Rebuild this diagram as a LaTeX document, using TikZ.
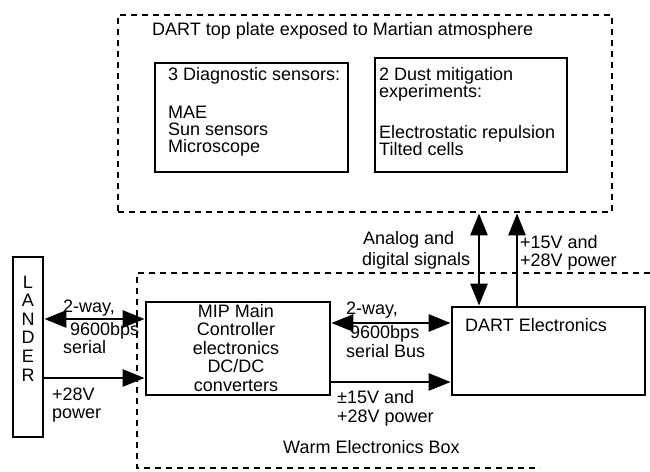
\documentclass[tikz,border=0pt]{standalone}
\usepackage{fontspec}
\setmainfont{Liberation Sans}
\usetikzlibrary{arrows.meta}
\tikzset{bigtip/.tip={Triangle[length=22pt,width=17pt]}}
\begin{document}
\begin{tikzpicture}[x=1pt,y=-1pt,
  every node/.style={inner sep=0pt, font=\fontsize{18}{17}\selectfont},
  box/.style={draw, line width=2.8pt},
  dbox/.style={draw, line width=2.8pt, dash pattern=on 6pt off 5pt},
  conn/.style={line width=2.8pt},
  lbl/.style={anchor=base west}
]
\useasboundingbox (0,0) rectangle (650,471);
% boxes
\node[box, minimum width=30pt, minimum height=180pt] (lander) at (28,347) {};
\node[box, minimum width=184pt, minimum height=93pt] (mip) at (238,348.5) {};
\node[box, minimum width=193pt, minimum height=88pt] (dart) at (548.5,351) {};
\node[box, minimum width=193pt, minimum height=109pt] (diag) at (251.5,117.5) {};
\node[box, minimum width=192pt, minimum height=114pt] (dust) at (471,115) {};
\node[dbox, minimum width=494pt, minimum height=197pt] (plate) at (365,113.5) {};
% warm electronics box (open)
\coordinate (w1) at (650,273);
\coordinate (w2) at (137,273);
\coordinate (w3) at (137,468);
\coordinate (w4) at (540,468);
\draw[dbox] (w1) -- (w2) -- (w3) -- (w4);
% texts
\node[anchor=north, align=center, font=\fontsize{18}{18.6}\selectfont] (landertxt) at (28,275.5) {L\\A\\N\\D\\E\\R};
\node[anchor=north, align=center, font=\fontsize{18}{18.5}\selectfont] (miptxt) at (236,304) {MIP Main\\Controller\\electronics\\DC/DC\\converters};
\node[lbl] (darttxt) at (465,331) {DART Electronics};
\node[lbl] (title) at (152,35) {DART top plate exposed to Martian atmosphere};
\node[anchor=north west, align=left] (diagtxt) at (168,67) {3 Diagnostic sensors:\\[21pt]MAE\\Sun sensors\\Microscope};
\node[anchor=north west, align=left] (dusttxt) at (379,67) {2 Dust mitigation\\[0pt]experiments:\\[24pt]Electrostatic repulsion\\Tilted cells};
\node[lbl] (t1) at (63,312) {2-way,};
\node[lbl] (t2) at (70,335) {9600bps};
\node[lbl] (t3) at (63,353) {serial};
\node[lbl] (t4) at (52,400) {+28V};
\node[lbl] (t5) at (52,418) {power};
\node[lbl] (t6) at (346,314) {2-way,};
\node[lbl] (t7) at (350,338) {9600bps};
\node[lbl] (t8) at (346,357) {serial Bus};
\node[lbl] (t9) at (337,403) {±15V and};
\node[lbl] (t10) at (337,422) {+28V power};
\node[lbl] (t11) at (283,453) {Warm Electronics Box};
\node[lbl] (t12) at (363,244) {Analog and};
\node[lbl] (t13) at (362,265) {digital signals};
\node[lbl] (t14) at (520,248) {+15V and};
\node[lbl] (t15) at (520,266) {+28V power};
% connectors
\coordinate (ya) at (0,319);
\coordinate (yb) at (0,378);
\coordinate (yc) at (0,323);
\coordinate (yd) at (0,382);
\coordinate (xa) at (479,0);
\coordinate (xb) at (517,0);
\draw[conn, bigtip-bigtip] (lander.east |- ya) -- (mip.west |- ya);
\draw[conn, -bigtip] (lander.east |- yb) -- (mip.west |- yb);
\draw[conn, bigtip-bigtip] (mip.east |- yc) -- (dart.west |- yc);
\draw[conn, -bigtip] (mip.east |- yd) -- (dart.west |- yd);
\draw[conn, bigtip-bigtip] (plate.south -| xa) -- (dart.north -| xa);
\draw[conn, -bigtip] (dart.north -| xb) -- (plate.south -| xb);
\end{tikzpicture}
\end{document}
